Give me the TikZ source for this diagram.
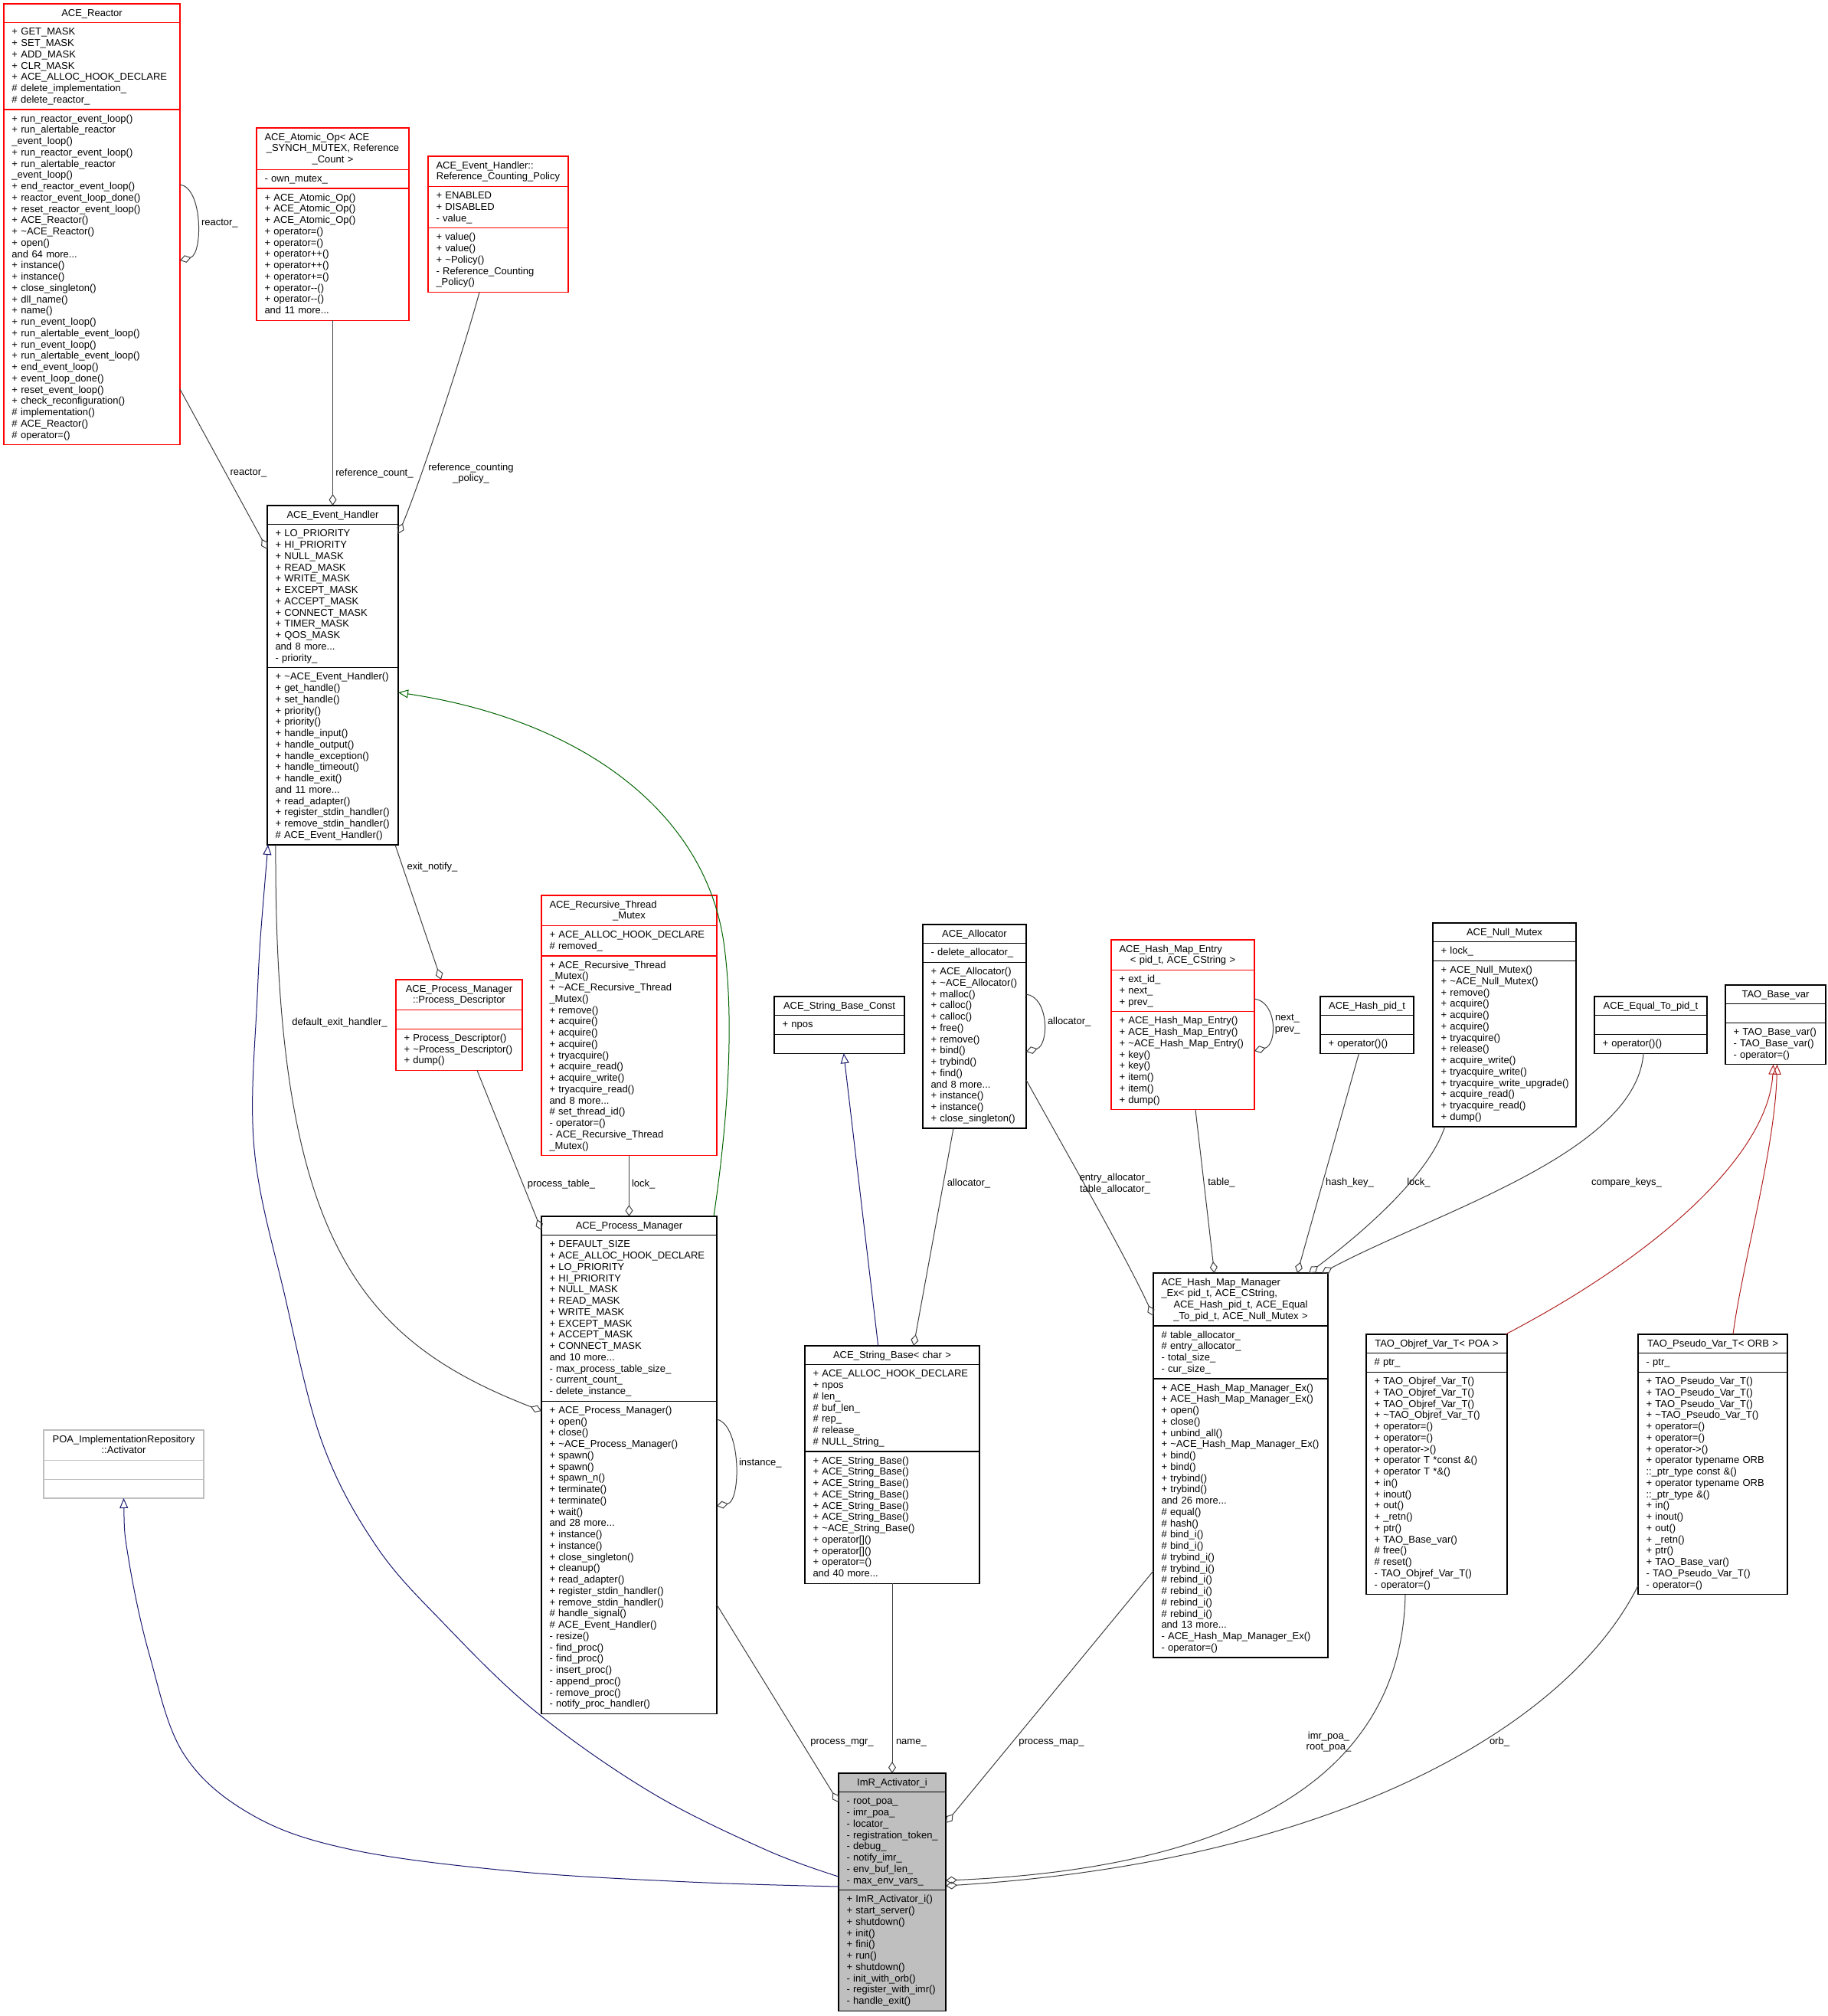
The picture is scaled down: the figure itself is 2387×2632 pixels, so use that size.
\documentclass[tikz,border=0pt]{standalone}
\usepackage{fontspec}
\setmainfont{Liberation Sans}
\usetikzlibrary{arrows.meta,calc}
\definecolor{edgegray}{HTML}{404040}
\definecolor{inhblue}{HTML}{191970}
\definecolor{inhgreen}{HTML}{006400}
\definecolor{inhred}{HTML}{B22222}
\definecolor{boxred}{HTML}{FF0000}
\definecolor{fillgray}{HTML}{BFBFBF}
\newcommand\LH{14.75}
\newcommand\PD{10}
\tikzset{
  every node/.style={font=\fontsize{13}{14.75}\selectfont},
  classbox/.style={line width=1.1pt, inner sep=0pt, outer sep=0pt},
  txt/.style={anchor=north west, inner sep=0pt, outer sep=0pt, align=left, text width=400pt, execute at begin node=\strut},
  ttl/.style={anchor=north west, inner sep=0pt, outer sep=0pt, align=center, execute at begin node=\strut},
  lbl/.style={inner sep=0pt, outer sep=0pt, align=center, execute at begin node=\strut},
  comp/.style={draw=edgegray, line width=1pt, -{Diamond[open, length=15pt, width=10pt, line width=1pt]}},
  inhB/.style={draw=inhblue, line width=1pt, {Triangle[open, length=13pt, width=11pt, line width=1pt]}-},
  inhG/.style={draw=inhgreen, line width=1pt, {Triangle[open, length=13pt, width=11pt, line width=1pt]}-},
  inhR/.style={draw=inhred, line width=1pt, {Triangle[open, length=13pt, width=11pt, line width=1pt]}-},
}
% name, border colour, fill, x, y, width, title lines, attr lines, method lines
\newcommand\classgeom[9]{%
  \pgfmathsetmacro\hT{#7*\LH+\PD}%
  \pgfmathsetmacro\hA{#8*\LH+\PD}%
  \pgfmathsetmacro\hM{#9*\LH+\PD}%
  \pgfmathsetmacro\hH{\hT+\hA+\hM}%
  \pgfmathsetmacro\yA{#5+\hT}%
  \pgfmathsetmacro\yM{#5+\hT+\hA}%
  \pgfmathsetmacro\tw{#6-21}%
  \expandafter\xdef\csname tw#1\endcsname{\tw}%
  \node[classbox, draw=#2, fill=#3, minimum width=#6pt, minimum height=\hH pt, anchor=north west] (#1) at (#4,#5) {};
  \draw[draw=#2, line width=1.1pt] (#4,\yA) -- ++(#6,0) (#4,\yM) -- ++(#6,0);
  \coordinate (#1-t) at (#4+10.5,#5+5.7);
  \coordinate (#1-a) at (#4+10.5,\yA+5.7);
  \coordinate (#1-m) at (#4+10.5,\yM+5.7);
}
% name, title, attributes, methods
\newcommand\classtext[4]{%
  \edef\curtw{\csname tw#1\endcsname}%
  \node[ttl, text width=\curtw pt] (#1-tt) at (#1-t) {#2};
  \node[txt] (#1-at) at (#1-a) {#3};
  \node[txt] (#1-mt) at (#1-m) {#4};
}
\newcommand\Lft[1]{\makebox[\hsize][l]{#1}}
\newcommand\tld{\textasciitilde}
\begin{document}
\begin{tikzpicture}[x=1pt,y=-1pt]
\fill[white] (0,0) rectangle (2387,2632);
\useasboundingbox (0,0) rectangle (2387,2632);

% ---------------- classes ----------------
\classgeom{Reactor}{boxred}{white}{5}{5}{230}{1}{7}{29}
\classtext{Reactor}{ACE\_Reactor}
{+ GET\_MASK\\+ SET\_MASK\\+ ADD\_MASK\\+ CLR\_MASK\\+ ACE\_ALLOC\_HOOK\_DECLARE\\\# delete\_implementation\_\\\# delete\_reactor\_}
{+ run\_reactor\_event\_loop()\\+ run\_alertable\_reactor\\\_event\_loop()\\+ run\_reactor\_event\_loop()\\+ run\_alertable\_reactor\\\_event\_loop()\\+ end\_reactor\_event\_loop()\\+ reactor\_event\_loop\_done()\\+ reset\_reactor\_event\_loop()\\+ ACE\_Reactor()\\+ \tld ACE\_Reactor()\\+ open()\\and 64 more...\\+ instance()\\+ instance()\\+ close\_singleton()\\+ dll\_name()\\+ name()\\+ run\_event\_loop()\\+ run\_alertable\_event\_loop()\\+ run\_event\_loop()\\+ run\_alertable\_event\_loop()\\+ end\_event\_loop()\\+ event\_loop\_done()\\+ reset\_event\_loop()\\+ check\_reconfiguration()\\\# implementation()\\\# ACE\_Reactor()\\\# operator=()}

\classgeom{AtomicOp}{boxred}{white}{335}{167}{199}{3}{1}{11}
\classtext{AtomicOp}{\Lft{ACE\_Atomic\_Op< ACE}\\\_SYNCH\_MUTEX, Reference\\\_Count >}
{- own\_mutex\_}
{+ ACE\_Atomic\_Op()\\+ ACE\_Atomic\_Op()\\+ ACE\_Atomic\_Op()\\+ operator=()\\+ operator=()\\+ operator++()\\+ operator++()\\+ operator+=()\\+ operator-{}-()\\+ operator-{}-()\\and 11 more...}

\classgeom{RCPolicy}{boxred}{white}{559}{204}{183}{2}{3}{5}
\classtext{RCPolicy}{\Lft{ACE\_Event\_Handler::}\\Reference\_Counting\_Policy}
{+ ENABLED\\+ DISABLED\\- value\_}
{+ value()\\+ value()\\+ \tld Policy()\\- Reference\_Counting\\\_Policy()}

\classgeom{EH}{black}{white}{349}{660}{171}{1}{12}{15}
\classtext{EH}{ACE\_Event\_Handler}
{+ LO\_PRIORITY\\+ HI\_PRIORITY\\+ NULL\_MASK\\+ READ\_MASK\\+ WRITE\_MASK\\+ EXCEPT\_MASK\\+ ACCEPT\_MASK\\+ CONNECT\_MASK\\+ TIMER\_MASK\\+ QOS\_MASK\\and 8 more...\\- priority\_}
{+ \tld ACE\_Event\_Handler()\\+ get\_handle()\\+ set\_handle()\\+ priority()\\+ priority()\\+ handle\_input()\\+ handle\_output()\\+ handle\_exception()\\+ handle\_timeout()\\+ handle\_exit()\\and 11 more...\\+ read\_adapter()\\+ register\_stdin\_handler()\\+ remove\_stdin\_handler()\\\# ACE\_Event\_Handler()}

\classgeom{ProcDesc}{boxred}{white}{517}{1279}{165}{2}{1}{3}
\classtext{ProcDesc}{ACE\_Process\_Manager\\::Process\_Descriptor}
{}
{+ Process\_Descriptor()\\+ \tld Process\_Descriptor()\\+ dump()}

\classgeom{RTM}{boxred}{white}{707}{1169}{229}{2}{2}{17}
\classtext{RTM}{\Lft{ACE\_Recursive\_Thread}\\\_Mutex}
{+ ACE\_ALLOC\_HOOK\_DECLARE\\\# removed\_}
{+ ACE\_Recursive\_Thread\\\_Mutex()\\+ \tld ACE\_Recursive\_Thread\\\_Mutex()\\+ remove()\\+ acquire()\\+ acquire()\\+ acquire()\\+ tryacquire()\\+ acquire\_read()\\+ acquire\_write()\\+ tryacquire\_read()\\and 8 more...\\\# set\_thread\_id()\\- operator=()\\- ACE\_Recursive\_Thread\\\_Mutex()}

\classgeom{PM}{black}{white}{707}{1588}{229}{1}{14}{27}
\classtext{PM}{ACE\_Process\_Manager}
{+ DEFAULT\_SIZE\\+ ACE\_ALLOC\_HOOK\_DECLARE\\+ LO\_PRIORITY\\+ HI\_PRIORITY\\+ NULL\_MASK\\+ READ\_MASK\\+ WRITE\_MASK\\+ EXCEPT\_MASK\\+ ACCEPT\_MASK\\+ CONNECT\_MASK\\and 10 more...\\- max\_process\_table\_size\_\\- current\_count\_\\- delete\_instance\_}
{+ ACE\_Process\_Manager()\\+ open()\\+ close()\\+ \tld ACE\_Process\_Manager()\\+ spawn()\\+ spawn()\\+ spawn\_n()\\+ terminate()\\+ terminate()\\+ wait()\\and 28 more...\\+ instance()\\+ instance()\\+ close\_singleton()\\+ cleanup()\\+ read\_adapter()\\+ register\_stdin\_handler()\\+ remove\_stdin\_handler()\\\# handle\_signal()\\\# ACE\_Event\_Handler()\\- resize()\\- find\_proc()\\- find\_proc()\\- insert\_proc()\\- append\_proc()\\- remove\_proc()\\- notify\_proc\_handler()}

\classgeom{SBConst}{black}{white}{1011}{1301}{170}{1}{1}{1}
\classtext{SBConst}{ACE\_String\_Base\_Const}
{+ npos}
{}

\classgeom{SB}{black}{white}{1051}{1757}{228}{1}{7}{11}
\classtext{SB}{ACE\_String\_Base< char >}
{+ ACE\_ALLOC\_HOOK\_DECLARE\\+ npos\\\# len\_\\\# buf\_len\_\\\# rep\_\\\# release\_\\\# NULL\_String\_}
{+ ACE\_String\_Base()\\+ ACE\_String\_Base()\\+ ACE\_String\_Base()\\+ ACE\_String\_Base()\\+ ACE\_String\_Base()\\+ ACE\_String\_Base()\\+ \tld ACE\_String\_Base()\\+ operator[]()\\+ operator[]()\\+ operator=()\\and 40 more...}

\classgeom{Allocator}{black}{white}{1205}{1207}{135}{1}{1}{14}
\classtext{Allocator}{ACE\_Allocator}
{- delete\_allocator\_}
{+ ACE\_Allocator()\\+ \tld ACE\_Allocator()\\+ malloc()\\+ calloc()\\+ calloc()\\+ free()\\+ remove()\\+ bind()\\+ trybind()\\+ find()\\and 8 more...\\+ instance()\\+ instance()\\+ close\_singleton()}

\classgeom{HME}{boxred}{white}{1451}{1227}{187}{2}{3}{8}
\classtext{HME}{\Lft{ACE\_Hash\_Map\_Entry}\\< pid\_t, ACE\_CString >}
{+ ext\_id\_\\+ next\_\\+ prev\_}
{+ ACE\_Hash\_Map\_Entry()\\+ ACE\_Hash\_Map\_Entry()\\+ \tld ACE\_Hash\_Map\_Entry()\\+ key()\\+ key()\\+ item()\\+ item()\\+ dump()}

\classgeom{HashPid}{black}{white}{1724}{1301}{122}{1}{1}{1}
\classtext{HashPid}{ACE\_Hash\_pid\_t}
{}
{+ operator()()}

\classgeom{NullMutex}{black}{white}{1871}{1205}{187}{1}{1}{14}
\classtext{NullMutex}{ACE\_Null\_Mutex}
{+ lock\_}
{+ ACE\_Null\_Mutex()\\+ \tld ACE\_Null\_Mutex()\\+ remove()\\+ acquire()\\+ acquire()\\+ acquire()\\+ tryacquire()\\+ release()\\+ acquire\_write()\\+ tryacquire\_write()\\+ tryacquire\_write\_upgrade()\\+ acquire\_read()\\+ tryacquire\_read()\\+ dump()}

\classgeom{EqualTo}{black}{white}{2082}{1301}{147}{1}{1}{1}
\classtext{EqualTo}{ACE\_Equal\_To\_pid\_t}
{}
{+ operator()()}

\classgeom{TAOBase}{black}{white}{2253}{1286}{131}{1}{1}{3}
\classtext{TAOBase}{TAO\_Base\_var}
{}
{+ TAO\_Base\_var()\\- TAO\_Base\_var()\\- operator=()}

\classgeom{HMM}{black}{white}{1506}{1662}{228}{4}{4}{24}
\classtext{HMM}{\Lft{ACE\_Hash\_Map\_Manager}\\\Lft{\_Ex< pid\_t, ACE\_CString,}\\ACE\_Hash\_pid\_t, ACE\_Equal\\\_To\_pid\_t, ACE\_Null\_Mutex >}
{\# table\_allocator\_\\\# entry\_allocator\_\\- total\_size\_\\- cur\_size\_}
{+ ACE\_Hash\_Map\_Manager\_Ex()\\+ ACE\_Hash\_Map\_Manager\_Ex()\\+ open()\\+ close()\\+ unbind\_all()\\+ \tld ACE\_Hash\_Map\_Manager\_Ex()\\+ bind()\\+ bind()\\+ trybind()\\+ trybind()\\and 26 more...\\\# equal()\\\# hash()\\\# bind\_i()\\\# bind\_i()\\\# trybind\_i()\\\# trybind\_i()\\\# rebind\_i()\\\# rebind\_i()\\\# rebind\_i()\\\# rebind\_i()\\and 13 more...\\- ACE\_Hash\_Map\_Manager\_Ex()\\- operator=()}

\classgeom{Objref}{black}{white}{1784}{1742}{184}{1}{1}{19}
\classtext{Objref}{TAO\_Objref\_Var\_T< POA >}
{\# ptr\_}
{+ TAO\_Objref\_Var\_T()\\+ TAO\_Objref\_Var\_T()\\+ TAO\_Objref\_Var\_T()\\+ \tld TAO\_Objref\_Var\_T()\\+ operator=()\\+ operator=()\\+ operator->()\\+ operator T *const \&()\\+ operator T *\&()\\+ in()\\+ inout()\\+ out()\\+ \_retn()\\+ ptr()\\+ TAO\_Base\_var()\\\# free()\\\# reset()\\- TAO\_Objref\_Var\_T()\\- operator=()}

\classgeom{Pseudo}{black}{white}{2139}{1742}{195}{1}{1}{19}
\classtext{Pseudo}{TAO\_Pseudo\_Var\_T< ORB >}
{- ptr\_}
{+ TAO\_Pseudo\_Var\_T()\\+ TAO\_Pseudo\_Var\_T()\\+ TAO\_Pseudo\_Var\_T()\\+ \tld TAO\_Pseudo\_Var\_T()\\+ operator=()\\+ operator=()\\+ operator->()\\+ operator typename ORB\\::\_ptr\_type const \&()\\+ operator typename ORB\\::\_ptr\_type \&()\\+ in()\\+ inout()\\+ out()\\+ \_retn()\\+ ptr()\\+ TAO\_Base\_var()\\- TAO\_Pseudo\_Var\_T()\\- operator=()}

\classgeom{POA}{fillgray}{white}{57}{1867}{209}{2}{1}{1}
\classtext{POA}{POA\_ImplementationRepository\\::Activator}
{}
{}

\classgeom{ImR}{black}{fillgray}{1095}{2315}{140}{1}{8}{10}
\classtext{ImR}{ImR\_Activator\_i}
{- root\_poa\_\\- imr\_poa\_\\- locator\_\\- registration\_token\_\\- debug\_\\- notify\_imr\_\\- env\_buf\_len\_\\- max\_env\_vars\_}
{+ ImR\_Activator\_i()\\+ start\_server()\\+ shutdown()\\+ init()\\+ fini()\\+ run()\\+ shutdown()\\- init\_with\_orb()\\- register\_with\_imr()\\- handle\_exit()}

% ---------------- connectors ----------------
\draw[comp] ([yshift=-236pt]Reactor.north east) .. controls +(30,4) and +(30,-8) .. ([yshift=-335pt]Reactor.north east);
\node[lbl, anchor=west] (l-reactor1) at (263,292) {reactor\_};

\draw[comp] ([yshift=-503pt]Reactor.north east) -- ([yshift=-57pt]EH.north west);
\node[lbl] (l-reactor2) at (324.5,618) {reactor\_};

\draw[comp] (AtomicOp.south) -- (AtomicOp.south |- EH.north);
\node[lbl] (l-refcount) at (489,619) {reference\_count\_};

\draw[comp] ([xshift=67pt]RCPolicy.south west) .. controls +(-21,78) and +(25,-57) .. ([yshift=-37pt]EH.north east);
\node[lbl] (l-refpol) at (615,619) {reference\_counting\\\_policy\_};

\draw[comp] ([xshift=167pt]EH.south west) -- ([xshift=59pt]ProcDesc.north west);
\node[lbl] (l-exit) at (564.5,1133) {exit\_notify\_};

\draw[comp] ([xshift=106pt]ProcDesc.south west) -- ([yshift=-18pt]PM.north west);
\node[lbl] (l-ptable) at (733,1547) {process\_table\_};

\draw[comp] (RTM.south) -- (PM.north);
\node[lbl, anchor=west] (l-lock1) at (825,1547) {lock\_};

\coordinate (g-mid) at (945,1230);
\draw[inhG] ([yshift=-244pt]EH.north east) .. controls (760,940) and (920,1060) .. (g-mid) .. controls (962,1350) and (945,1500) .. ([xshift=-4pt]PM.north east);

\draw[comp] ([xshift=11pt]EH.south west) .. controls (358,1620) and (470,1750) .. ([yshift=-254pt]PM.north west);
\node[lbl] (l-defexit) at (443.5,1336) {default\_exit\_handler\_};

\draw[comp] ([yshift=-265pt]PM.north east) .. controls +(32,7) and +(32,-6) .. ([yshift=-378pt]PM.north east);
\node[lbl, anchor=west] (l-inst) at (965,1911) {instance\_};

\draw[inhB] plot[smooth, tension=0.6] coordinates {([xshift=1pt]EH.south west) (336,1300) (332,1500) (372,1692) (421,1884) (491,2018) (580,2120) (700,2235) (850,2340) (1000,2415) ([yshift=-135pt]ImR.north west)};

\draw[inhB] plot[smooth, tension=0.6] coordinates {(POA.south) (168,2036) (195,2160) (240,2290) (330,2370) (460,2415) (671,2443) (900,2457) ([yshift=-148pt]ImR.north west)};

\draw[comp] ([yshift=-507pt]PM.north east) -- ([yshift=-38pt]ImR.north west);
\node[lbl] (l-pmgr) at (1099.5,2275) {process\_mgr\_};

\draw[comp] (SB.south) -- (ImR.north);
\node[lbl, anchor=west] (l-name) at (1170,2275) {name\_};

\draw[comp] ([yshift=-389pt]HMM.north west) -- ([yshift=-65pt]ImR.north east);
\node[lbl] (l-pmap) at (1373,2275) {process\_map\_};

\draw[comp] ([xshift=51pt]Objref.south west) .. controls +(-5,248) and +(363,-15) .. ([yshift=-140pt]ImR.north east);
\node[lbl] (l-poa) at (1735,2275) {imr\_poa\_\\root\_poa\_};

\draw[comp] ([yshift=-328pt]Pseudo.north west) .. controls +(-89,180) and +(515,-32) .. ([yshift=-147pt]ImR.north east);
\node[lbl] (l-orb) at (1958,2275) {orb\_};

\draw[comp] ([yshift=-91pt]Allocator.north east) .. controls +(30,4) and +(30,-8) .. ([yshift=-166pt]Allocator.north east);
\node[lbl, anchor=west] (l-alloc1) at (1368,1335) {allocator\_};

\draw[comp] ([xshift=40pt]Allocator.south west) -- ([xshift=142pt]SB.north west);
\node[lbl] (l-alloc2) at (1265,1546) {allocator\_};

\draw[inhB] ([xshift=90.7pt]SBConst.south west) -- ([xshift=95.7pt]SB.north west);

\draw[comp] ([yshift=-203pt]Allocator.north east) .. controls +(50,90) and +(-36,-78) .. ([yshift=-56pt]HMM.north west);
\node[lbl] (l-entry) at (1456,1546.5) {entry\_allocator\_\\table\_allocator\_};

\draw[comp] ([xshift=110pt]HME.south west) -- ([xshift=79.7pt]HMM.north west);
\node[lbl] (l-table) at (1595,1545) {table\_};

\draw[comp] ([yshift=-77pt]HME.north east) .. controls +(30,4) and +(30,-8) .. ([yshift=-145pt]HME.north east);
\node[lbl] (l-next) at (1681,1338) {next\_\\prev\_};

\draw[comp] ([xshift=50.5pt]HashPid.south west) -- ([xshift=188pt]HMM.north west);
\node[lbl] (l-hash) at (1762.5,1545) {hash\_key\_};

\draw[comp] ([xshift=15.7pt]NullMutex.south west) .. controls +(-20,60) and +(80,-60) .. ([xshift=203pt]HMM.north west);
\node[lbl] (l-lock2) at (1852.5,1545) {lock\_};

\draw[comp] ([xshift=64pt]EqualTo.south west) .. controls +(-10,130) and +(150,-80) .. ([xshift=220pt]HMM.north west);
\node[lbl] (l-cmp) at (2124,1545) {compare\_keys\_};

\draw[inhR] ([xshift=-3pt]TAOBase.south) .. controls (2310,1500) and (2180,1630) .. ([xshift=-2pt]Objref.north east);
\draw[inhR] ([xshift=2pt]TAOBase.south) .. controls (2318,1500) and (2275,1650) .. ([xshift=124pt]Pseudo.north west);
\end{tikzpicture}
\end{document}
